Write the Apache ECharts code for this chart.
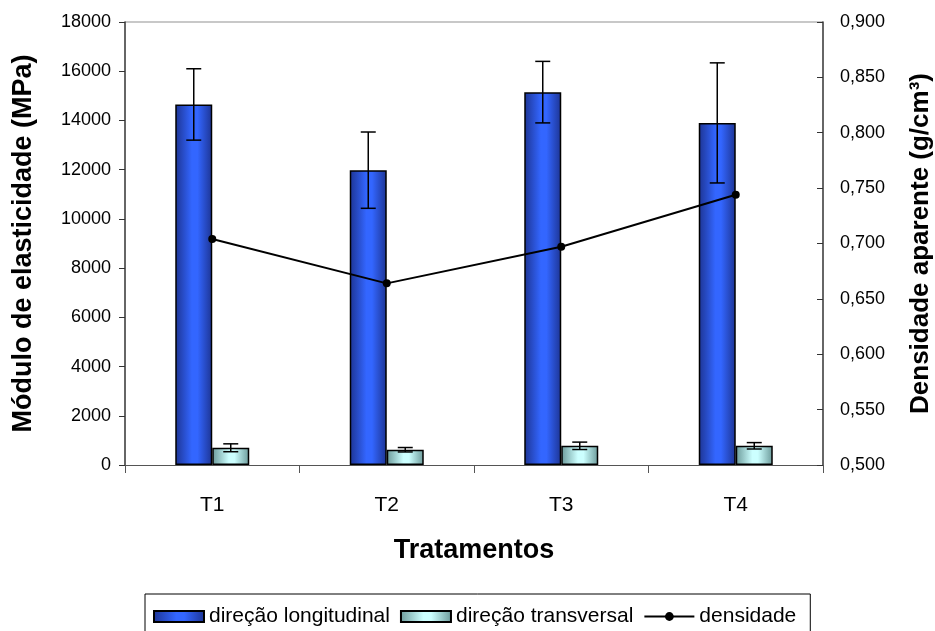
<!DOCTYPE html>
<html>
<head>
<meta charset="utf-8">
<script src="https://cdn.jsdelivr.net/npm/echarts@6/dist/echarts.min.js"></script>
<style>html,body{margin:0;padding:0;background:#fff}#c{width:935px;height:631px}</style>
</head>
<body>
<div id="c"></div>
<script>
var categories = ['T1', 'T2', 'T3', 'T4'];
var longitudinal = [14650, 11980, 15150, 13900];
var longitudinalErr = [1450, 1550, 1250, 2440];
var transversal = [700, 620, 780, 780];
var transversalErr = [160, 90, 150, 130];
var densidade = [0.704, 0.664, 0.697, 0.744];
var leftTicks = [0, 18000, 2000];
var rightTicks = [0.5, 0.9, 0.05];

var FONT = '"Liberation Sans", Arial, sans-serif';
var BAR_W = 37;

function errSeries(name, vals, errs, offset) {
  var data = vals.map(function (v, i) { return [i, v - errs[i], v + errs[i]]; });
  return {
    type: 'custom',
    name: name,
    z: 5,
    silent: true,
    renderItem: function (params, api) {
      var i = api.value(0);
      var lo = api.coord([i, api.value(1)]);
      var hi = api.coord([i, api.value(2)]);
      var x = lo[0] + offset;
      var cap = 7.5;
      var st = { stroke: '#000', lineWidth: 1.5 };
      return {
        type: 'group',
        children: [
          { type: 'line', shape: { x1: x, y1: lo[1], x2: x, y2: hi[1] }, style: st },
          { type: 'line', shape: { x1: x - cap, y1: lo[1], x2: x + cap, y2: lo[1] }, style: st },
          { type: 'line', shape: { x1: x - cap, y1: hi[1], x2: x + cap, y2: hi[1] }, style: st }
        ]
      };
    },
    encode: { x: 0, y: [1, 2] },
    data: data
  };
}

var chart = echarts.init(document.getElementById('c'), null, { renderer: 'canvas' });
chart.setOption({
  animation: false,
  backgroundColor: '#fff',
  textStyle: { fontFamily: FONT },
  grid: { left: 125, right: 112, top: 22, bottom: 166, containLabel: false, outerBoundsMode: 'none' },
  legend: {
    data: [
      { name: 'direção longitudinal', icon: 'rect' },
      { name: 'direção transversal', icon: 'rect' },
      { name: 'densidade' }
    ],
    left: 145, top: 594,
    padding: [12, 14, 14, 8],
    borderColor: '#000', borderWidth: 1,
    itemWidth: 50, itemHeight: 11, itemGap: 10,
    textStyle: { fontFamily: FONT, fontSize: 21, color: '#000' }
  },
  xAxis: {
    type: 'category',
    data: categories,
    name: 'Tratamentos',
    nameLocation: 'middle',
    nameGap: 72,
    nameTextStyle: { fontFamily: FONT, fontSize: 27, fontWeight: 'bold', color: '#000' },
    axisLine: { lineStyle: { color: '#555', width: 1 } },
    axisTick: { show: true, length: 8, lineStyle: { color: '#555' } },
    axisLabel: { fontSize: 21, color: '#000', margin: 30, fontFamily: FONT },
    splitLine: { show: false }
  },
  yAxis: [
    {
      type: 'value',
      min: leftTicks[0], max: leftTicks[1], interval: leftTicks[2],
      name: 'Módulo de elasticidade (MPa)',
      nameLocation: 'middle', nameRotate: 90, nameGap: 88,
      nameTextStyle: { fontFamily: FONT, fontSize: 27, fontWeight: 'bold', color: '#000' },
      axisLine: { show: true, lineStyle: { color: '#333', width: 1.5 } },
      axisTick: { show: true, length: 6, lineStyle: { color: '#333' } },
      axisLabel: {
        fontSize: 18, color: '#000', margin: 14, fontFamily: FONT,
        formatter: function (v) { return String(v); }
      },
      splitLine: { show: false }
    },
    {
      type: 'value',
      min: rightTicks[0], max: rightTicks[1], interval: rightTicks[2],
      name: 'Densidade aparente (g/cm³)',
      nameLocation: 'middle', nameRotate: 90, nameGap: 85,
      nameTextStyle: { fontFamily: FONT, fontSize: 26, fontWeight: 'bold', color: '#000' },
      axisLine: { show: true, lineStyle: { color: '#333', width: 1.5 } },
      axisTick: { show: true, inside: true, length: 6, lineStyle: { color: '#333' } },
      axisLabel: {
        fontSize: 18, color: '#000', margin: 17, fontFamily: FONT,
        formatter: function (v) { return v.toFixed(3).replace('.', ','); }
      },
      splitLine: { show: false }
    }
  ],
  series: [
    {
      name: 'direção longitudinal',
      type: 'bar',
      data: longitudinal,
      barWidth: BAR_W,
      barGap: '0%',
      itemStyle: {
        color: new echarts.graphic.LinearGradient(0, 0, 1, 0, [
          { offset: 0, color: '#1d3493' },
          { offset: 0.45, color: '#3366ff' },
          { offset: 0.6, color: '#3366ff' },
          { offset: 1, color: '#1d3493' }
        ]),
        borderColor: '#000', borderWidth: 1.5
      }
    },
    {
      name: 'direção transversal',
      type: 'bar',
      data: transversal,
      barWidth: BAR_W,
      barGap: '0%',
      itemStyle: {
        color: new echarts.graphic.LinearGradient(0, 0, 1, 0, [
          { offset: 0, color: '#6b9999' },
          { offset: 0.45, color: '#ccffff' },
          { offset: 0.6, color: '#ccffff' },
          { offset: 1, color: '#6b9999' }
        ]),
        borderColor: '#000', borderWidth: 1.5
      }
    },
    errSeries('errLong', longitudinal, longitudinalErr, -BAR_W / 2),
    errSeries('errTrans', transversal, transversalErr, BAR_W / 2),
    {
      name: 'densidade',
      type: 'line',
      yAxisIndex: 1,
      data: densidade,
      z: 6,
      symbol: 'circle',
      symbolSize: 8,
      lineStyle: { color: '#000', width: 2 },
      itemStyle: { color: '#000' }
    }
  ],
  graphic: [
    { type: 'line', shape: { x1: 125, y1: 22, x2: 823, y2: 22 }, style: { stroke: '#c8c8c8', lineWidth: 2 }, silent: true }
  ]
});
</script>
</body>
</html>
